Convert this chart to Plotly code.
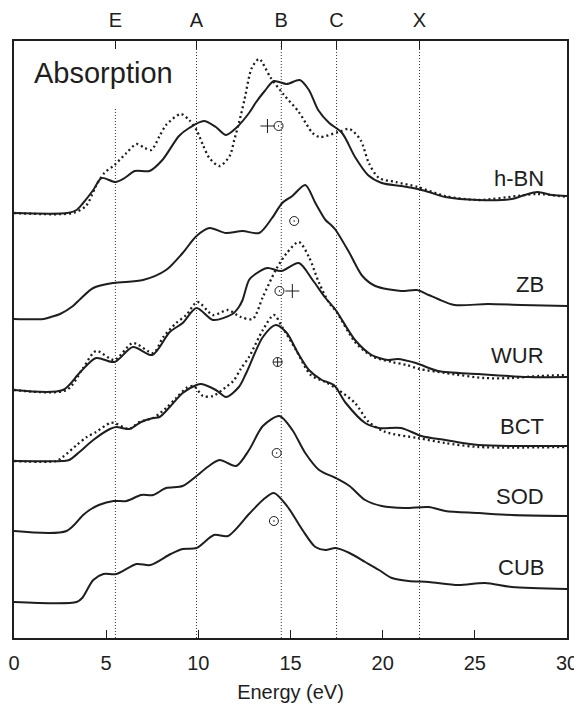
import plotly.graph_objects as go

# ---------------- data ----------------
ref_names = ["E", "A", "B", "C", "X"]
ref_energy = [5.5, 9.9, 14.5, 17.5, 22.0]
ref_line_top = [530, 597, 597, 597, 597]   # E line starts below the panel title

x_ticks = [0, 5, 10, 15, 20, 25, 30]

structures = ["h-BN", "ZB", "WUR", "BCT", "SOD", "CUB"]
offsets = [425, 319, 248, 177, 107, 36]      # vertical shift of each spectrum (a.u.)

# solid curves (calculated)
hbn_e = [0, 2.9, 3.4, 3.75, 4.3, 4.75, 5.5, 6.0, 6.55, 7.35, 8.05, 8.95, 9.5, 10.3, 10.95, 11.5, 12.05, 12.75, 13.1, 13.6, 14.1, 14.8, 15.5, 16.0, 16.5, 17.1, 17.8, 18.5, 19.2, 19.95, 21.0, 21.9, 22.5, 23.4, 25.2, 27.0, 27.7, 28.4, 29.2, 30]
hbn_i = [0, 0, 3, 10, 23, 35, 31, 35, 42, 42, 53, 77, 85, 92, 86, 78, 85, 100, 110, 122, 132, 129, 133, 123, 103, 90, 80, 56, 38, 30, 27, 24, 21, 16, 13, 14, 18, 21, 18, 17]

zb_e = [0, 1.6, 2.0, 2.5, 3.2, 3.6, 4.3, 5.4, 7.0, 8.25, 9.15, 9.9, 10.6, 11.5, 12.4, 13.3, 14.0, 14.55, 15.1, 15.8, 16.35, 16.9, 17.2, 17.45, 18.2, 18.9, 19.6, 21.0, 21.85, 22.5, 23.0, 23.9, 25.7, 27.5, 30]
zb_i = [0, 0, 2, 5, 13, 20, 31, 36, 39, 49, 66, 83, 91, 86, 88, 86, 101, 116, 123, 134, 116, 99, 94, 89, 66, 43, 33, 28, 29, 24, 20, 14, 15, 14, 13]

wur_e = [0, 2.65, 3.55, 4.45, 5.45, 6.45, 7.5, 8.45, 9.15, 9.9, 10.8, 11.85, 12.2, 12.4, 12.75, 13.1, 13.75, 14.5, 15.45, 16.2, 16.9, 17.45, 18.5, 19.4, 20.3, 20.8, 21.8, 23.0, 25.2, 27.9, 30]
wur_i = [0, 0, 17, 32, 28, 43, 35, 58, 67, 82, 70, 76, 83, 90, 110, 116, 122, 119, 127, 110, 92, 80, 50, 35, 30, 31, 27, 19, 16, 13, 13]

bct_e = [0, 2.65, 3.0, 3.55, 4.3, 5.2, 5.55, 6.25, 6.9, 7.55, 7.9, 8.45, 9.15, 9.9, 10.15, 10.95, 11.5, 12.2, 12.6, 13.5, 14.2, 14.8, 15.4, 16.0, 16.7, 17.35, 18.0, 19.05, 19.8, 21.0, 22.1, 23.4, 25.2, 30]
bct_i = [0, 0, 1, 9, 21, 32, 34, 32, 39, 43, 44, 54, 68, 76, 77, 71, 64, 74, 88, 124, 136, 128, 108, 91, 81, 76, 58, 38, 33, 33, 25, 21, 16, 15]

sod_e = [0, 2.85, 3.75, 4.1, 4.6, 5.4, 6.1, 6.9, 7.55, 8.25, 9.15, 9.9, 10.5, 11.15, 12.05, 12.75, 13.5, 14.4, 15.1, 15.8, 16.55, 17.45, 18.2, 19.05, 19.95, 21.2, 22.5, 23.4, 25.2, 27.0, 30]
sod_i = [0, 0, 16, 21, 26, 30, 30, 36, 36, 43, 45, 55, 64, 71, 65, 81, 105, 115, 101, 78, 61, 53, 45, 31, 25, 23, 24, 20, 18, 16, 15]

cub_e = [0, 3.4, 3.7, 4.3, 4.85, 5.55, 6.65, 7.4, 8.5, 9.15, 9.9, 10.85, 11.6, 12.75, 13.5, 14.1, 14.85, 15.65, 16.35, 16.9, 17.45, 18.2, 19.05, 19.8, 20.5, 21.4, 22.5, 24.1, 25.55, 27.0, 30]
cub_i = [0, 0, 4, 22, 28, 28, 38, 37, 48, 53, 54, 67, 66, 88, 102, 109, 95, 72, 55, 52, 54, 49, 40, 32, 24, 21, 20, 17, 19, 15, 13]

# dotted curves (second data set)
hbn_dot_e = [0, 3.2, 3.9, 4.45, 4.9, 5.45, 6.1, 6.65, 7.1, 7.45, 7.9, 8.25, 9.05, 9.5, 9.9, 10.25, 10.6, 11.15, 11.7, 11.95, 12.2, 12.5, 12.9, 13.3, 13.9, 14.65, 15.45, 16.2, 16.6, 17.6, 18.2, 18.8, 19.25, 19.8, 20.7, 21.9, 23.4, 25.2, 27.3, 28.4, 30]
hbn_dot_i = [0, 0, 7, 27, 40, 48, 60, 69, 65, 63, 77, 88, 99, 93, 83, 68, 55, 47, 57, 73, 90, 113, 145, 154, 136, 118, 101, 80, 76, 81, 84, 73, 50, 35, 31, 26, 17, 13, 17, 19, 16]

wur_dot_e = [0, 2.85, 3.75, 4.45, 5.45, 6.45, 7.55, 8.1, 8.8, 9.35, 9.95, 10.8, 11.6, 12.3, 12.95, 13.5, 14.2, 14.8, 15.45, 16.0, 16.55, 17.1, 17.5, 18.5, 19.4, 20.5, 21.3, 22.0, 23.4, 25.5, 27.0, 28.5, 30]
wur_dot_i = [0, 0, 22, 39, 30, 47, 37, 53, 67, 75, 88, 75, 80, 73, 71, 93, 120, 137, 148, 133, 107, 87, 78, 48, 34, 28, 25, 21, 17, 12, 12, 14, 15]

bct_dot_e = [0, 2.3, 2.65, 3.4, 3.95, 4.45, 5.2, 5.45, 6.25, 6.8, 7.55, 8.25, 8.8, 9.35, 9.75, 10.25, 10.8, 11.5, 11.9, 12.3, 12.75, 13.5, 14.1, 14.55, 15.3, 16.1, 16.9, 17.6, 18.5, 19.25, 20.15, 21.9, 23.4, 25.2, 30]
bct_dot_i = [0, 0, 4, 16, 24, 29, 38, 38, 32, 39, 43, 53, 63, 73, 75, 65, 65, 74, 80, 92, 104, 131, 146, 134, 111, 86, 79, 71, 58, 39, 29, 23, 18, 14, 14]

# characteristic markers: (structure, energy, height above baseline, symbol)
mark_struct = ["h-BN", "h-BN", "ZB", "WUR", "WUR", "BCT", "SOD", "CUB"]
mark_energy = [13.75, 14.35, 15.2, 14.4, 15.1, 14.3, 14.25, 14.1]
mark_height = [87, 87, 98, 99, 99, 99, 78, 81]
mark_kind = ["plus", "dot", "dot", "dot", "plus", "both", "dot", "dot"]

solid = {"h-BN": (hbn_e, hbn_i), "ZB": (zb_e, zb_i), "WUR": (wur_e, wur_i),
         "BCT": (bct_e, bct_i), "SOD": (sod_e, sod_i), "CUB": (cub_e, cub_i)}
dotted = {"h-BN": (hbn_dot_e, hbn_dot_i), "WUR": (wur_dot_e, wur_dot_i),
          "BCT": (bct_dot_e, bct_dot_i)}

# ---------------- figure ----------------
INK = "#1e1e1e"
FONT = "Liberation Sans, Arial, Helvetica, sans-serif"
sym = {"plus": "cross-thin-open", "dot": "circle-open-dot", "both": "circle-cross-open"}

fig = go.Figure()

for name, off in zip(structures, offsets):
    if name in dotted:
        e, i = dotted[name]
        fig.add_trace(go.Scatter(x=e, y=[v + off for v in i], mode="lines",
                                 line=dict(color=INK, width=2.3, dash="2px,3px", shape="spline", smoothing=0.8),
                                 showlegend=False, hoverinfo="skip"))
    e, i = solid[name]
    fig.add_trace(go.Scatter(x=e, y=[v + off for v in i], mode="lines",
                             line=dict(color=INK, width=2, shape="spline", smoothing=0.8),
                             showlegend=False, hoverinfo="skip"))

off_of = dict(zip(structures, offsets))
for s, e, h, k in zip(mark_struct, mark_energy, mark_height, mark_kind):
    fig.add_trace(go.Scatter(x=[e], y=[h + off_of[s]], mode="markers",
                             marker=dict(symbol=sym[k], size=9 if k != "plus" else 10, color=INK,
                                         line=dict(width=1, color=INK)),
                             showlegend=False, hoverinfo="skip"))

# dummy trace to activate the top axis
fig.add_trace(go.Scatter(x=[0], y=[0], xaxis="x2", mode="markers",
                         marker=dict(opacity=0), showlegend=False, hoverinfo="skip"))

for xe, top in zip(ref_energy, ref_line_top):
    fig.add_shape(type="line", x0=xe, x1=xe, y0=0, y1=top, xref="x", yref="y",
                  line=dict(color="#333", width=1, dash="1px,2px"), layer="below")

for name, off in zip(structures, offsets):
    fig.add_annotation(x=28.85, y=off + 35, text=name, showarrow=False, xanchor="right",
                       yanchor="middle", font=dict(size=22, color=INK, family=FONT))

fig.add_annotation(x=1.0, y=565, text="Absorption", showarrow=False, xanchor="left",
                   yanchor="middle", font=dict(size=29, color=INK, family=FONT))

# the page body adds an 8 px margin, so the figure is 8 px smaller and margins shifted
fig.update_layout(
    width=574, height=699,
    margin=dict(l=6, r=15, t=33, b=69, autoexpand=False),
    paper_bgcolor="white", plot_bgcolor="white",
    font=dict(family=FONT, color=INK, size=20),
    xaxis=dict(range=[0, 30], tickvals=x_ticks, ticks="inside", ticklen=8, tickwidth=1.2,
               tickcolor=INK, showline=True, linecolor=INK, linewidth=1.5, mirror=True,
               showgrid=False, zeroline=False, tickfont=dict(size=20), automargin=False,
               ticklabelstandoff=6,
               title=dict(text="Energy (eV)", font=dict(size=20), standoff=12)),
    xaxis2=dict(range=[0, 30], overlaying="x", side="top", tickvals=ref_energy,
                ticktext=ref_names, ticks="inside", ticklen=8, tickwidth=1.2, tickcolor=INK,
                showline=False, showgrid=False, zeroline=False, tickfont=dict(size=20),
                ticklabelstandoff=9, automargin=False),
    yaxis=dict(range=[0, 597], showticklabels=False, ticks="", showline=True, linecolor=INK,
               linewidth=1.5, mirror=True, showgrid=False, zeroline=False, automargin=False),
)

fig.write_html("out.html")
